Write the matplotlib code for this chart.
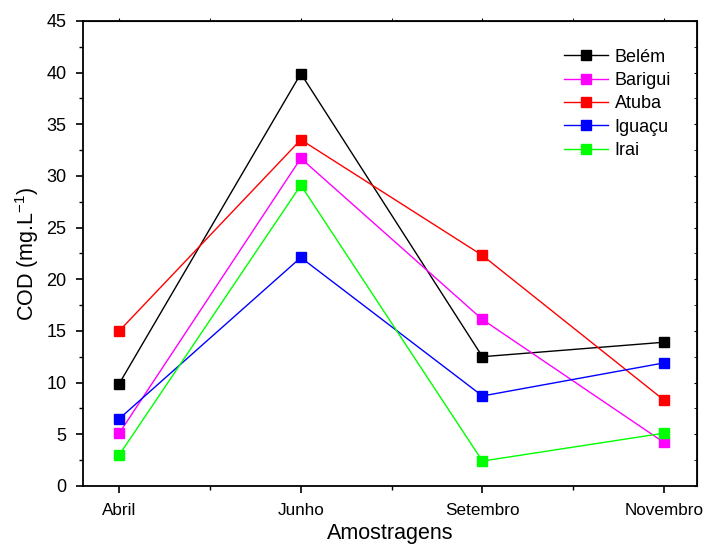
import matplotlib
matplotlib.use('Agg')
import matplotlib.pyplot as plt
from matplotlib.ticker import MultipleLocator

plt.rcParams['font.family'] = ['Liberation Sans', 'DejaVu Sans']
plt.rcParams['mathtext.fontset'] = 'custom'
plt.rcParams['mathtext.rm'] = 'Liberation Sans'
plt.rcParams['mathtext.it'] = 'Liberation Sans'

meses = ['Abril', 'Junho', 'Setembro', 'Novembro']
belem = [9.9, 39.9, 12.5, 13.9]
barigui = [5.1, 31.7, 16.1, 4.2]
atuba = [15.0, 33.5, 22.3, 8.3]
iguacu = [6.5, 22.1, 8.7, 11.9]
irai = [3.0, 29.1, 2.4, 5.1]

series = [
    ('Belém', belem, '#000000'),
    ('Barigui', barigui, '#FF00FF'),
    ('Atuba', atuba, '#FF0000'),
    ('Iguaçu', iguacu, '#0000FF'),
    ('Irai', irai, '#00FF00'),
]

fig = plt.figure(figsize=(7.03, 5.49), dpi=100)
ax = fig.add_axes([0.118, 0.115, 0.873, 0.847])

x = list(range(len(meses)))
for nome, vals, cor in series:
    ax.plot(x, vals, color=cor, linewidth=1.0, marker='s', markersize=6.5,
            markeredgecolor=cor, markerfacecolor=cor, label=nome)

ax.set_xlim(-0.2, 3.18)
ax.set_ylim(0, 45)
ax.set_xticks(x)
ax.set_xticklabels(meses)
ax.xaxis.set_minor_locator(MultipleLocator(0.5))
ax.yaxis.set_major_locator(MultipleLocator(5))
ax.yaxis.set_minor_locator(MultipleLocator(2.5))

ax.tick_params(which='major', direction='out', length=5, width=1.2,
               labelsize=13, pad=7)
ax.tick_params(axis='x', which='major', labelsize=12.3)
ax.tick_params(which='minor', direction='out', length=3, width=1.0)
for s in ax.spines.values():
    s.set_linewidth(1.3)

# small ticks on the top and right frame
top = ax.secondary_xaxis('top')
top.set_xticks(x)
top.xaxis.set_minor_locator(MultipleLocator(0.5))
top.tick_params(which='both', direction='out', length=2, labeltop=False)
right = ax.secondary_yaxis('right')
right.yaxis.set_major_locator(MultipleLocator(5))
right.yaxis.set_minor_locator(MultipleLocator(2.5))
right.tick_params(which='both', direction='in', length=2, labelright=False)

ax.set_xlabel('Amostragens', fontsize=15.5, labelpad=4)
ax.set_ylabel('COD (mg.L$^{\\mathregular{-1}}$)', fontsize=15.5, labelpad=4)

ax.legend(loc='upper right', bbox_to_anchor=(0.985, 0.975), frameon=False,
          fontsize=13, handlelength=2.4, labelspacing=0.35, handletextpad=0.4)

fig.savefig('out.png', dpi=100)
